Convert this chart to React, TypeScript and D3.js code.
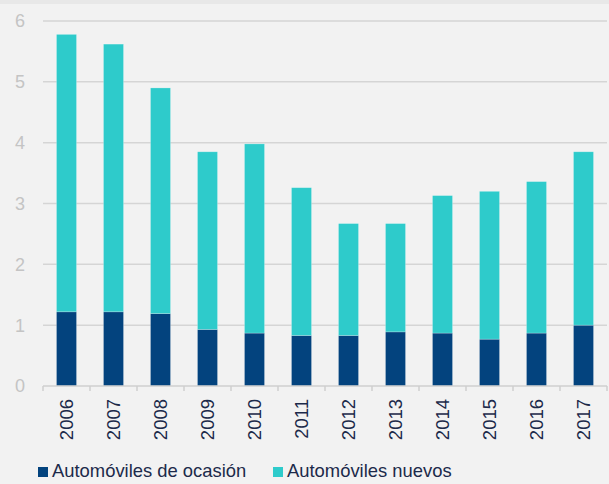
import React from 'react';
import * as d3 from 'd3';

// data
const years = ['2006', '2007', '2008', '2009', '2010', '2011', '2012', '2013', '2014', '2015', '2016', '2017'];
const ocasion = [1.22, 1.22, 1.19, 0.93, 0.87, 0.83, 0.83, 0.89, 0.87, 0.77, 0.87, 1.0];
const totals = [5.78, 5.62, 4.9, 3.85, 3.98, 3.26, 2.67, 2.67, 3.13, 3.2, 3.36, 3.85];
const nuevos = totals.map((t, i) => +(t - ocasion[i]).toFixed(2));
const yTicks = [0, 1, 2, 3, 4, 5, 6];
const seriesNames = ['Automóviles de ocasión', 'Automóviles nuevos'];

const WIDTH = 609;
const HEIGHT = 484;
const PLOT = { LEFT: 43, RIGHT: 607, TOP: 21, BOTTOM: 386 };
const COLORS = ['#03437e', '#2ecbcb'];
const FONT = "'Liberation Sans', Arial, sans-serif";

export default function App(): JSX.Element {
  const x = d3
    .scaleBand<string>()
    .domain(years)
    .range([PLOT.LEFT, PLOT.RIGHT])
    .paddingInner(0.574)
    .paddingOuter(0.287);
  const y = d3.scaleLinear().domain([0, 6]).range([PLOT.BOTTOM, PLOT.TOP]);

  const rows = years.map((year, i) => ({ year, ocasion: ocasion[i], nuevos: nuevos[i] }));
  const stacked = d3.stack<any>().keys(['ocasion', 'nuevos'])(rows);

  const step = x.step();
  const boundaries = d3.range(years.length + 1).map((i) => PLOT.LEFT + i * step);

  return (
    <svg
      width={WIDTH}
      height={HEIGHT}
      style={{ position: 'absolute', left: 0, top: 0, display: 'block' }}
      fontFamily={FONT}
    >
      <rect x={0} y={0} width={WIDTH} height={HEIGHT} fill="#f2f2f2" />
      <rect x={0} y={0} width={WIDTH} height={4} fill="#e8e8e8" />

      {/* gridlines + y labels */}
      {yTicks.map((t) => (
        <g key={t}>
          {t > 0 && (
            <line
              x1={PLOT.LEFT}
              x2={PLOT.RIGHT}
              y1={y(t)}
              y2={y(t)}
              stroke="#d5d5d5"
              strokeWidth={1.5}
            />
          )}
          <text x={25} y={y(t)} dy="0.36em" textAnchor="end" fontSize={18} fill="#c4c4c4">
            {t}
          </text>
        </g>
      ))}

      {/* stacked bars */}
      {stacked.map((layer, li) => (
        <g key={layer.key} fill={COLORS[li]}>
          {layer.map((d, i) => (
            <rect
              key={years[i]}
              x={x(years[i])}
              y={y(d[1])}
              width={x.bandwidth()}
              height={y(d[0]) - y(d[1])}
              stroke="rgba(255,255,255,0.3)"
              strokeWidth={0.75}
            />
          ))}
        </g>
      ))}

      {/* x axis */}
      <line x1={PLOT.LEFT} x2={PLOT.RIGHT} y1={PLOT.BOTTOM} y2={PLOT.BOTTOM} stroke="#cfcfcf" strokeWidth={1.5} />
      {boundaries.map((bx, i) => (
        <line key={i} x1={bx} x2={bx} y1={PLOT.BOTTOM} y2={PLOT.BOTTOM + 5} stroke="#cfcfcf" strokeWidth={1.5} />
      ))}
      {years.map((yr) => {
        const cx = (x(yr) as number) + x.bandwidth() / 2;
        return (
          <text
            key={yr}
            transform={`translate(${cx},399) rotate(-90)`}
            dy="0.37em"
            textAnchor="end"
            fontSize={18.5}
            fill="#1c2a4a"
          >
            {yr}
          </text>
        );
      })}

      {/* legend */}
      {seriesNames.map((name, i) => {
        const lx = i === 0 ? 38 : 273;
        return (
          <g key={name}>
            <rect x={lx} y={467} width={10} height={10} fill={COLORS[i]} />
            <text x={lx + 14} y={477} fontSize={18.4} fill="#1c2a4a">
              {name}
            </text>
          </g>
        );
      })}
    </svg>
  );
}
